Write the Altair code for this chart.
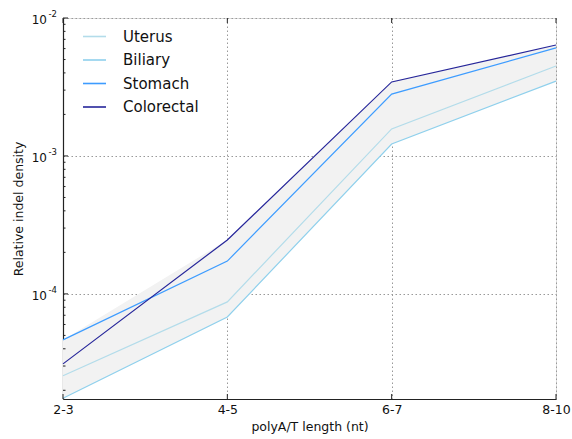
import altair as alt
import pandas as pd

# polyA/T tract length bins
categories = ["2-3", "4-5", "6-7", "8-10"]

# relative indel density per tissue
uterus = [2.55e-5, 8.75e-5, 1.57e-3, 4.49e-3]
biliary = [1.75e-5, 6.8e-5, 1.22e-3, 3.49e-3]
stomach = [4.64e-5, 1.73e-4, 2.81e-3, 6.07e-3]
colorectal = [3.11e-5, 2.46e-4, 3.44e-3, 6.37e-3]

series_names = ["Uterus", "Biliary", "Stomach", "Colorectal"]
series_colors = ["#b3dcea", "#8fd0ec", "#3d9cff", "#26269a"]

major_values = [1e-4, 1e-3, 1e-2]
major_exps = ["-4", "-3", "-2"]
minor_values = [m * 10.0 ** e for e in (-5, -4, -3) for m in range(2, 10)]

W, H = 493, 381
FONT = "DejaVu Sans"

rows = []
for name, vals in zip(series_names, [uterus, biliary, stomach, colorectal]):
    for c, v in zip(categories, vals):
        rows.append({"length": c, "tissue": name, "value": v})
lines_df = pd.DataFrame(rows)

band_df = pd.DataFrame({
    "length": categories,
    "lo": [min(v) for v in zip(uterus, biliary, stomach, colorectal)],
    "hi": [max(v) for v in zip(uterus, biliary, stomach, colorectal)],
})

xscale = alt.Scale(type="point", padding=0, domain=categories)
yscale = alt.Scale(type="log", domain=[1.73e-5, 1e-2], nice=False)

x_axis = alt.Axis(title="polyA/T length (nt)", labelAngle=0, ticks=False,
                  domainColor="#222", domainWidth=1.2,
                  grid=True, gridColor="#999", gridDash=[1.5, 2.5],
                  labelFont=FONT, labelFontSize=12.5, labelColor="#111",
                  labelPadding=4, titleFont=FONT, titleFontSize=12.5,
                  titleFontWeight="normal", titleColor="#111", titlePadding=5)
y_axis = alt.Axis(title="Relative indel density", values=major_values,
                  labels=False, ticks=False, domainColor="#222", domainWidth=1.2,
                  grid=True, gridColor="#999", gridDash=[1.5, 2.5],
                  titleFont=FONT, titleFontSize=12.5, titleFontWeight="normal",
                  titleColor="#111", titlePadding=38)


def xenc(field="length:O"):
    return alt.X(field, scale=xscale, sort=categories, axis=x_axis,
                 title="polyA/T length (nt)")


def yenc(field):
    return alt.Y(field, scale=yscale, axis=y_axis, title="Relative indel density")


band = alt.Chart(band_df).mark_area(color="#f2f2f2", opacity=1).encode(
    x=xenc(), y=yenc("lo:Q"), y2="hi:Q",
)

lines = alt.Chart(lines_df).mark_line(strokeWidth=1.2).encode(
    x=xenc(),
    y=yenc("value:Q"),
    color=alt.Color("tissue:N",
                    scale=alt.Scale(domain=series_names, range=series_colors),
                    sort=series_names,
                    legend=alt.Legend(title=None, orient="none", legendX=19, legendY=6,
                                      symbolType="stroke", symbolSize=529,
                                      symbolStrokeWidth=1.6, labelFont=FONT,
                                      labelFontSize=15, labelColor="#111",
                                      labelOffset=16, rowPadding=2.5,
                                      labelLimit=200)),
)

# inward tick marks on the y axis
major_df = pd.DataFrame({"v": major_values, "exp": major_exps, "base": ["10"] * 3})
minor_df = pd.DataFrame({"v": minor_values})

minor_ticks = alt.Chart(minor_df).mark_rule(color="#222", strokeWidth=1).encode(
    y=yenc("v:Q"), x=alt.value(0), x2=alt.value(2.5))
major_ticks = alt.Chart(major_df).mark_rule(color="#222", strokeWidth=1).encode(
    y=yenc("v:Q"), x=alt.value(0), x2=alt.value(5))

cat_df = pd.DataFrame({"length": categories})
bottom_ticks = alt.Chart(cat_df).mark_rule(color="#222", strokeWidth=1).encode(
    x=xenc(), y=alt.value(H), y2=alt.value(H - 5))
top_ticks = alt.Chart(cat_df).mark_rule(color="#222", strokeWidth=1).encode(
    x=xenc(), y=alt.value(0), y2=alt.value(5))

# power-of-ten tick labels
base_labels = alt.Chart(major_df).mark_text(
    align="right", baseline="middle", font=FONT, fontSize=12, color="#111", dx=-16, dy=2
).encode(y=yenc("v:Q"), x=alt.value(0), text="base:N")
exp_labels = alt.Chart(major_df).mark_text(
    align="right", baseline="middle", font=FONT, fontSize=8.5, color="#111", dx=-6, dy=-4
).encode(y=yenc("v:Q"), x=alt.value(0), text="exp:N")

chart = alt.layer(
    band, lines, minor_ticks, major_ticks, bottom_ticks, top_ticks, base_labels, exp_labels
).properties(
    width=W, height=H,
    autosize=alt.AutoSizeParams(type="none"),
    padding={"left": 63, "top": 18, "right": 16, "bottom": 40},
).configure_view(stroke=None).configure(background="white")

chart.save("out.html", embed_options={"renderer": "svg", "actions": False})
